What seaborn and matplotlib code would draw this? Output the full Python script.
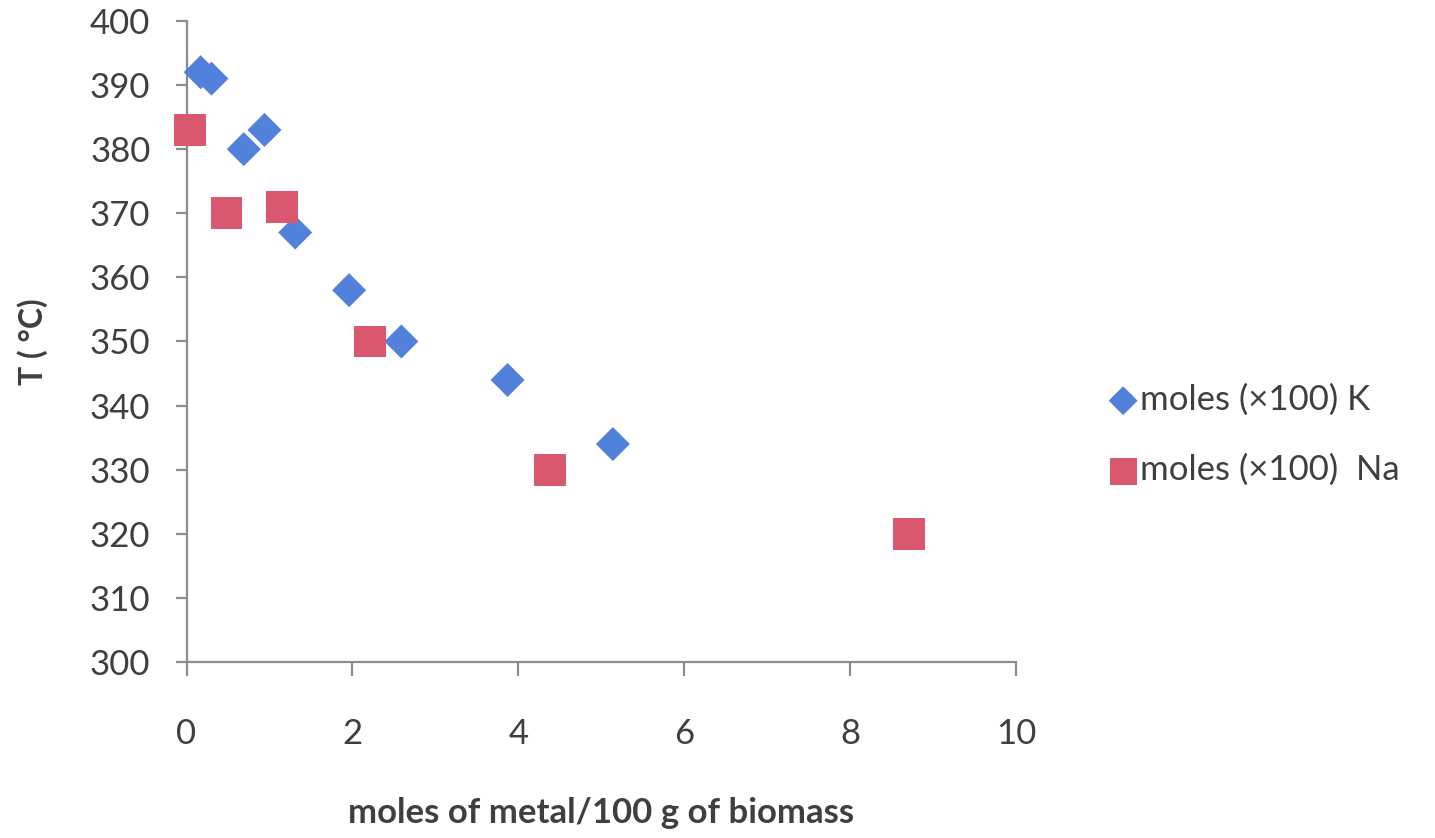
import matplotlib
matplotlib.use("Agg")
import matplotlib.pyplot as plt
import seaborn as sns
import pandas as pd

# Potassium loading (moles x100 per 100 g biomass) and onset temperature
k_moles = [0.17, 0.30, 0.69, 0.94, 1.31, 1.96, 2.59, 3.87, 5.14]
k_temp = [392, 391, 380, 383, 367, 358, 350, 344, 334]

# Sodium loading and onset temperature
na_moles = [0.04, 0.48, 1.15, 2.21, 4.38, 8.71]
na_temp = [383, 370, 371, 350, 330, 320]

series_k = "moles (\u00d7100) K"
series_na = "moles (\u00d7100)  Na"

df = pd.concat([
    pd.DataFrame({"moles": k_moles, "T": k_temp, "series": series_k}),
    pd.DataFrame({"moles": na_moles, "T": na_temp, "series": series_na}),
], ignore_index=True)

sns.set_theme(style="white")
plt.rcParams["font.family"] = ["Lato", "DejaVu Sans"]

text_color = "#3f3f3f"
axis_color = "#8c8c8c"
palette = {series_k: "#5181da", series_na: "#d9576f"}
markers = {series_k: "D", series_na: "s"}
sizes = {series_k: 300, series_na: 520}

fig = plt.figure(figsize=(14.35, 8.38), dpi=100)
ax = fig.add_axes([0.130, 0.210, 0.578, 0.765])

for name in [series_k, series_na]:
    sub = df[df["series"] == name]
    sns.scatterplot(data=sub, x="moles", y="T", marker=markers[name],
                    s=sizes[name], color=palette[name], edgecolor="none",
                    linewidth=0, ax=ax, label=name, clip_on=False, zorder=3)

ax.set_xlim(0, 10)
ax.set_ylim(300, 400)
ax.set_xticks(range(0, 11, 2))
ax.set_yticks(range(300, 401, 10))

for side in ["top", "right"]:
    ax.spines[side].set_visible(False)
for side in ["left", "bottom"]:
    ax.spines[side].set_color(axis_color)
    ax.spines[side].set_linewidth(1.6)

ax.tick_params(axis="y", direction="out", length=8, width=1.6, color=axis_color,
               labelsize=25, labelcolor=text_color, pad=18, left=True)
ax.tick_params(axis="x", direction="out", length=10, width=1.6, color=axis_color,
               labelsize=25, labelcolor=text_color, pad=30, bottom=True)

ax.set_xlabel("moles of metal/100 g of biomass", fontsize=25, fontweight="bold",
              color=text_color, labelpad=34)
ax.set_ylabel("T ( \u00b0C)", fontsize=23, fontweight="bold", color=text_color,
              labelpad=30)

leg = ax.legend(loc="center left", bbox_to_anchor=(0.750, 0.481),
                bbox_transform=fig.transFigure, frameon=False, fontsize=25,
                handletextpad=0.05, labelspacing=1.1, handlelength=0.9,
                markerscale=0.85)
for t in leg.get_texts():
    t.set_color(text_color)

fig.savefig("out.png", dpi=100, facecolor="white")
